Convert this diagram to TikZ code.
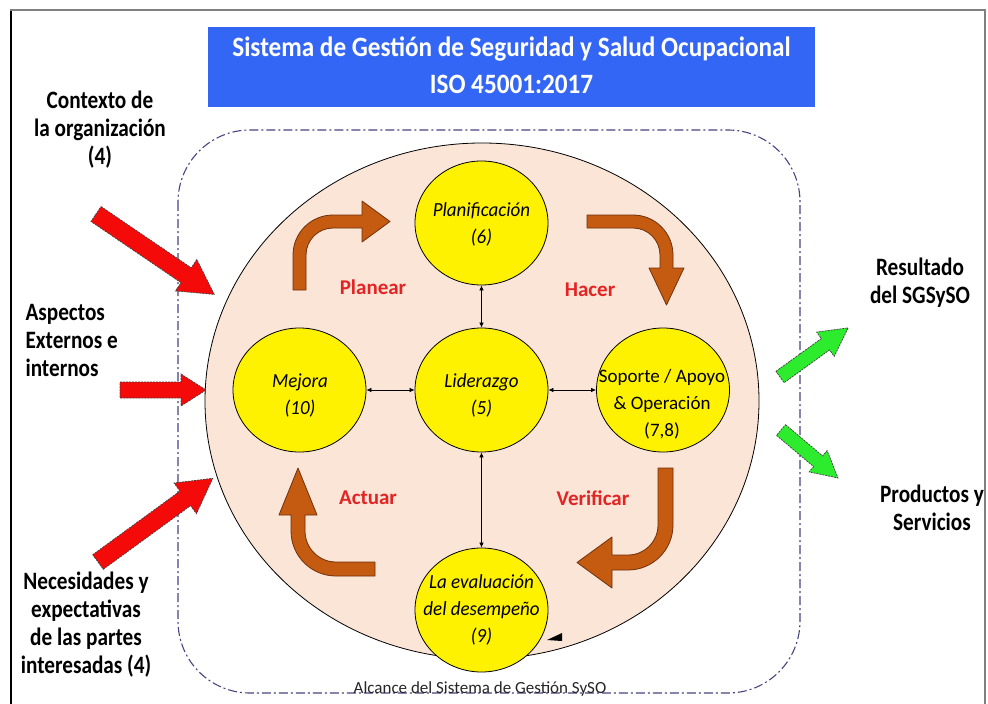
\documentclass[tikz,border=0pt]{standalone}
\usepackage{fontspec}
\setmainfont{Carlito}
\newfontfamily\narrowfont{Carlito}[FakeStretch=0.85]
\newfontfamily\titlefont{Carlito}[FakeStretch=0.9]
\newfontfamily\stagefont{Carlito}[FakeStretch=0.95]
\usetikzlibrary{shapes.geometric,arrows.meta}

\definecolor{titleblue}{RGB}{51,102,245}
\definecolor{peach}{RGB}{251,229,214}
\definecolor{rust}{RGB}{197,90,17}
\definecolor{rustdark}{RGB}{110,50,15}
\definecolor{cyclered}{RGB}{226,36,36}
\definecolor{scopeline}{RGB}{70,70,130}
\definecolor{inred}{RGB}{245,10,10}
\definecolor{outgreen}{RGB}{45,235,45}

% block arrow: #1 tail point, #2 angle, #3 length, #4 shaft half width,
% #5 head half width, #6 head length, #7 style
\newcommand{\blkarrow}[7]{%
  \begin{scope}[shift={#1}, rotate=#2]
    \path[#7] (0,-#4) -- ({#3-#6},-#4) -- ({#3-#6},-#5) -- (#3,0)
      -- ({#3-#6},#5) -- ({#3-#6},#4) -- (0,#4) -- cycle;
  \end{scope}}

\tikzset{
  stage/.style={ellipse, draw=black, line width=0.8pt, fill=yellow,
    minimum width=133pt, minimum height=124pt, inner sep=0pt},
  stagetext/.style={align=center, font=\stagefont\itshape\fontsize{20}{27}\selectfont},
  phase/.style={text=cyclered, font=\bfseries\fontsize{21}{25}\selectfont},
  sidelabel/.style={align=center, font=\narrowfont\bfseries\fontsize{25}{28}\selectfont},
  link/.style={{Latex[length=5pt,width=4.5pt]}-{Latex[length=5pt,width=4.5pt]}, line width=0.7pt},
  cyclearrow/.style={fill=rust, draw=rustdark, line width=0.8pt, line join=round},
  inarrow/.style={fill=inred, draw=black!75, line width=0.7pt, dash pattern=on 2pt off 1pt},
  outarrow/.style={fill=outgreen, draw=black!75, line width=0.7pt, dash pattern=on 2pt off 1pt},
}

\begin{document}
\begin{tikzpicture}[x=1pt,y=-1pt]
\useasboundingbox (0,0) rectangle (988,704);
\fill[white] (0,0) rectangle (988,704);

% page frame
\draw[black, line width=1.5pt] (11,704) -- (11,10);
\draw[gray, line width=2pt] (10,10) -- (985,10) -- (985,704);

% title banner
\fill[titleblue] (208,27) rectangle (815,107);
\node[text=white, align=center, font=\titlefont\bfseries\fontsize{28}{37}\selectfont]
  (title) at (511.5,65) {Sistema de Gestión de Seguridad y Salud Ocupacional\\ISO 45001:2017};

% scope boundary of the management system
\draw[scopeline, line width=1.1pt, dash pattern=on 9pt off 3pt on 2pt off 3pt,
  rounded corners=72pt] (178,130) rectangle (800,693);
\node[font=\fontsize{17}{20}\selectfont, text=black!85] (scope) at (480,689)
  {Alcance del Sistema de Gestión SySO};

% PDCA disc
\draw[fill=peach, line width=0.8pt] (482,401) ellipse [x radius=277pt, y radius=258pt];

% stages
\node[stage] (plan) at (481.5,223) {};
\node[stage] (lid)  at (481.5,390) {};
\node[stage] (mej)  at (299.5,390) {};
\node[stage] (sop)  at (663,390) {};
\node[stage] (eva)  at (481.5,610) {};

\node[stagetext] (planT) at (481.5,224) {Planificación\\(6)};
\node[stagetext] (lidT)  at (481.5,395) {Liderazgo\\(5)};
\node[stagetext] (mejT)  at (300,395) {Mejora\\(10)};
\node[align=center, font=\fontsize{19}{27}\selectfont] (sopT) at (662,404)
  {Soporte / Apoyo\\\& Operación\\(7,8)};
\node[stagetext] (evaT)  at (481.5,610) {La evaluación\\del desempeño\\(9)};

% links to leadership
\draw[link] (plan) -- (lid);
\draw[link] (mej) -- (lid);
\draw[link] (lid) -- (sop);
\draw[link] (lid) -- (eva);

% phase labels
\node[phase] (planear)   at (373,287) {Planear};
\node[phase] (hacer)     at (590,290) {Hacer};
\node[phase] (actuar)    at (368,498) {Actuar};
\node[phase] (verificar) at (593,498) {Verificar};

% cycle arrows
\path[cyclearrow] (293,290) -- (293,255) .. controls (293,232.9) and (310.9,215) .. (333,215)
  -- (362,215) -- (362,201) -- (390,221.5) -- (362,242) -- (362,228) -- (333,228)
  .. controls (318.1,228) and (306,240.1) .. (306,255) -- (306,290) -- cycle;
\path[cyclearrow] (587,215) -- (633,215) .. controls (655.1,215) and (673,232.9) .. (673,255)
  -- (673,268) -- (684,268) -- (666.5,305) -- (649,268) -- (660,268) -- (660,255)
  .. controls (660,240.1) and (647.9,228) .. (633,228) -- (587,228) -- cycle;
\path[cyclearrow] (658,468) -- (673,468) -- (673,525) .. controls (673,549.9) and (652.9,570) .. (628,570)
  -- (612,570) -- (612,588) -- (577,562.5) -- (612,537) -- (612,555) -- (628,555)
  .. controls (644.6,555) and (658,541.6) .. (658,525) -- cycle;
\path[cyclearrow] (375,576) -- (336,576) .. controls (311.1,576) and (291,555.9) .. (291,531)
  -- (291,515) -- (279,515) -- (298,468) -- (317,515) -- (305,515) -- (305,531)
  .. controls (305,548.1) and (318.9,562) .. (336,562) -- (375,562) -- cycle;

% small marker near the evaluation stage
\fill[black] (547,640) -- (562,633) -- (562,641) -- cycle;

% inputs
\blkarrow{(96,214)}{-34.2}{143}{9}{19}{34}{inarrow}
\blkarrow{(120,390)}{0}{86}{8}{16}{25}{inarrow}
\blkarrow{(98,562)}{36.1}{142}{9}{19}{34}{inarrow}

% outputs
\blkarrow{(780,377)}{35.8}{84}{7}{15}{28}{outarrow}
\blkarrow{(781,430)}{-40.1}{74.5}{7}{14}{26}{outarrow}

% side labels
\node[sidelabel] (contexto) at (100,130) {Contexto de\\la organización\\(4)};
\node[sidelabel, align=left, anchor=west] (aspectos) at (22,340) {Aspectos\\Externos e\\internos};
\node[sidelabel] (necesidades) at (86,625) {Necesidades y\\expectativas\\de las partes\\interesadas (4)};
\node[sidelabel] (resultado) at (920,283) {Resultado\\del SGSySO};
\node[sidelabel] (productos) at (932,508) {Productos y\\Servicios};
\end{tikzpicture}
\end{document}
